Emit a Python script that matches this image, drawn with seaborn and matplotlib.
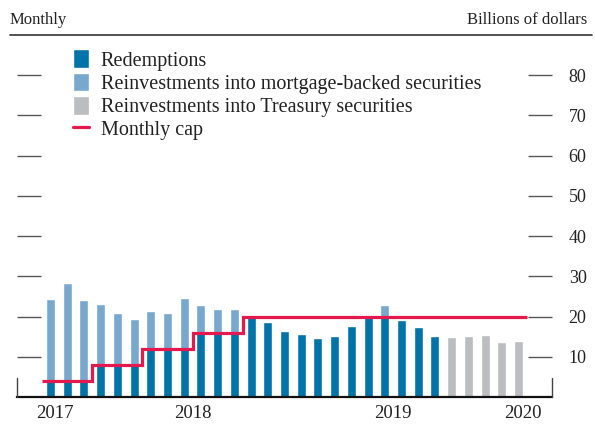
import matplotlib
matplotlib.use("Agg")
import numpy as np
import matplotlib.pyplot as plt
import seaborn as sns
from matplotlib.patches import Patch
from matplotlib.lines import Line2D

# ── Data (billions of dollars, monthly) ─────────────────────
months = [
    "Oct 2017", "Nov 2017", "Dec 2017",
    "Jan 2018", "Feb 2018", "Mar 2018", "Apr 2018", "May 2018", "Jun 2018",
    "Jul 2018", "Aug 2018", "Sep 2018", "Oct 2018", "Nov 2018", "Dec 2018",
    "Jan 2019", "Feb 2019", "Mar 2019", "Apr 2019", "May 2019", "Jun 2019",
    "Jul 2019", "Aug 2019", "Sep 2019", "Oct 2019", "Nov 2019", "Dec 2019",
    "Jan 2020", "Feb 2020",
]
mbs_months = months[:24]
tsy_months = months[24:]

# total MBS principal (redemptions + reinvestments into MBS)
mbs_total = [24.3, 28.3, 24.1, 23.2, 20.9, 19.4, 21.3, 20.9, 24.6, 22.8, 21.8, 21.8,
             19.8, 18.7, 16.5, 15.6, 14.6, 15.1, 17.6, 19.8, 22.8, 19.1, 17.4, 15.1]
redemptions = [4, 4, 4, 8, 8, 8, 12, 12, 12, 16, 16, 16,
               19.8, 18.7, 16.5, 15.6, 14.6, 15.1, 17.6, 19.8, 20, 19.1, 17.4, 15.1]
treasury = [14.9, 15.1, 15.4, 13.6, 13.9]
monthly_cap = [4, 4, 4, 8, 8, 8, 12, 12, 12, 16, 16, 16,
               20, 20, 20, 20, 20, 20, 20, 20, 20, 20, 20, 20, 20, 20, 20, 20, 20]

year_labels = ["2017", "2018", "2019", "2020"]
y_ticks = [10, 20, 30, 40, 50, 60, 70, 80]

DARK = "#0073A8"
LIGHT = "#78A8CE"
GRAY = "#BCBDC1"
RED = "#E5194B"

# ── Style ───────────────────────────────────────────────────
sns.set_style("white")
plt.rcParams["font.family"] = ["Liberation Serif", "DejaVu Serif"]
plt.rcParams["text.color"] = "#222222"

fig = plt.figure(figsize=(5.95, 4.25), dpi=100)
ax = fig.add_axes([17 / 595, 28 / 425, 535 / 595, 362 / 425])

bar_kw = dict(order=months, width=0.54, saturation=1, errorbar=None, ax=ax)
sns.barplot(x=mbs_months, y=mbs_total, color=LIGHT, **bar_kw)
sns.barplot(x=mbs_months, y=redemptions, color=DARK, **bar_kw)
sns.barplot(x=tsy_months, y=treasury, color=GRAY, **bar_kw)

# monthly cap as a step line across each month
edges = np.arange(len(months) + 1) - 0.5
ax.stairs(monthly_cap, edges, baseline=None, color=RED, linewidth=2.3, zorder=4)

# ── Axes ────────────────────────────────────────────────────
ax.set_xlim(-2, 30)
ax.set_ylim(0, 90)
ax.set_xlabel("")
ax.set_ylabel("")

# year labels centred in each year's span, boundaries as minor ticks
ax.set_xticks([0.25, 8.5, 20.5, 28.25], year_labels)
ax.set_xticks([2.5, 14.5, 26.5], minor=True)
ax.tick_params(axis="x", which="major", length=0, pad=6, labelsize=13.5, labelcolor="#222")
ax.tick_params(axis="x", which="minor", length=11, direction="in", width=1, color="#777")
for xe in (-2, 30):
    ax.plot([xe, xe], [0, 4.7], color="#444", lw=1, clip_on=False, zorder=5)

ax.set_yticks(y_ticks)
ax.tick_params(axis="y", left=True, right=True, labelleft=False, labelright=True,
               direction="in", length=17, width=1, color="#555", pad=12,
               labelsize=13, labelcolor="#222")

for side in ("top", "left", "right"):
    ax.spines[side].set_visible(False)
ax.spines["bottom"].set_linewidth(1.6)
ax.spines["bottom"].set_color("#111")

# ── Legend ──────────────────────────────────────────────────
handles = [
    Patch(facecolor=DARK, label="Redemptions"),
    Patch(facecolor=LIGHT, label="Reinvestments into mortgage-backed securities"),
    Patch(facecolor=GRAY, label="Reinvestments into Treasury securities"),
    Line2D([], [], color=RED, lw=2.3, label="Monthly cap"),
]
ax.legend(handles=handles, loc="upper left", bbox_to_anchor=(56 / 535, 0.96),
          frameon=False, borderpad=0, borderaxespad=0, fontsize=14.5,
          handlelength=0.8, handleheight=1.05, handletextpad=0.58, labelspacing=0.1)

# ── Header ──────────────────────────────────────────────────
fig.add_artist(Line2D([10 / 595, 592 / 595], [1 - 35 / 425] * 2, color="#333",
                      lw=1.2, transform=fig.transFigure))
fig.text(10 / 595, 1 - 20 / 425, "Monthly", ha="left", va="center", fontsize=12)
fig.text(587 / 595, 1 - 20 / 425, "Billions of dollars", ha="right", va="center", fontsize=12)

fig.savefig("out.png", dpi=100)
